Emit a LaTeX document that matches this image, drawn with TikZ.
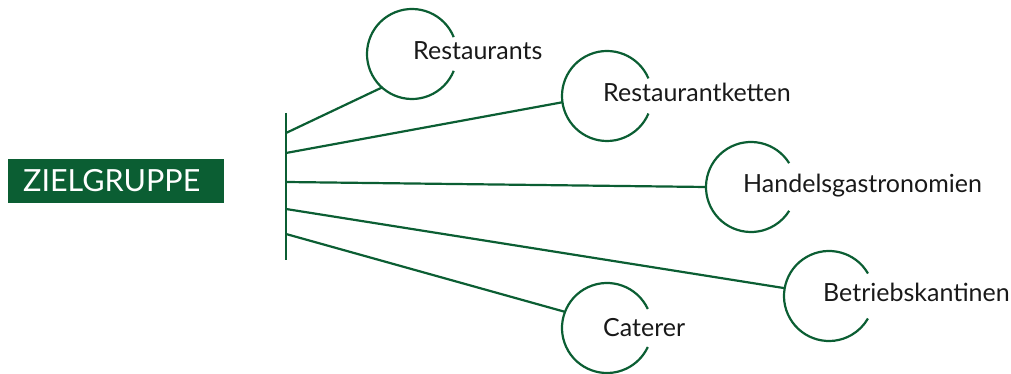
\documentclass[tikz,border=0pt]{standalone}
\usepackage{fontspec}
\setmainfont{Lato}
\definecolor{zgreen}{RGB}{11,94,51}
\definecolor{ztext}{RGB}{25,25,25}
\begin{document}
\begin{tikzpicture}[x=1pt,y=1pt,
  conn/.style={draw=zgreen,line width=2.2pt},
  ring/.style={circle,minimum size=90pt,inner sep=0pt},
  lbl/.style={anchor=base west,inner sep=0pt,text=ztext,font=\fontsize{25}{29}\selectfont},
  head/.style={fill=zgreen,text=white,minimum width=216pt,minimum height=44pt,inner sep=0pt}]
\useasboundingbox (0,0) rectangle (1011,374);
% header box
\node[head] (zg) at (116,193) {};
\node[anchor=base west,inner sep=0pt,text=white,font=\fontsize{30.5}{34}\selectfont] (zgt) at (23,182) {ZIELGRUPPE};
% spine
\coordinate (top) at (286,261);
\coordinate (bot) at (286,114);
\draw[conn] (top) -- (bot);
\coordinate (s1) at (286,241);
\coordinate (s2) at (286,221);
\coordinate (s3) at (286,192);
\coordinate (s4) at (286,165);
\coordinate (s5) at (286,140);
% rings
\node[ring] (r1) at (412,320) {};
\node[ring] (r2) at (607,278) {};
\node[ring] (r3) at (751,187) {};
\node[ring] (r4) at (829,78) {};
\node[ring] (r5) at (607,46) {};
\foreach \n/\g in {r1/22,r2/23,r3/32,r4/30,r5/25}{
  \draw[conn] ([shift={(\g:45pt)}]\n.center) arc[start angle=\g,end angle=360-\g,radius=45pt];
}
% connectors
\draw[conn] (s1) -- (r1.228);
\draw[conn] (s2) -- (r2.188);
\draw[conn] (s3) -- (r3.180);
\draw[conn] (s4) -- (r4.170);
\draw[conn] (s5) -- (r5.159);
% labels
\node[lbl] (t1) at (413,314) {Restaurants};
\node[lbl] (t2) at (603,272) {Restaurantketten};
\node[lbl] (t3) at (743,181) {Handelsgastronomien};
\node[lbl] (t4) at (823,72) {Betriebskantinen};
\node[lbl] (t5) at (603,37) {Caterer};
\end{tikzpicture}
\end{document}
